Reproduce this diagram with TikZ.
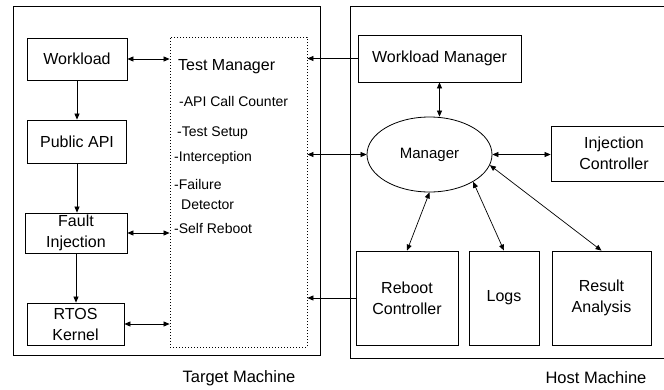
\documentclass[tikz,border=0pt]{standalone}
\usepackage{fontspec}
\setmainfont{Liberation Sans}
\usetikzlibrary{arrows.meta,shapes.geometric}

\tikzset{
  frame/.style={draw, line width=1pt},
  box/.style={draw, line width=0.8pt, align=center, inner sep=0pt, font=\fontsize{16}{21}\selectfont},
  item/.style={anchor=west, inner sep=0pt, font=\fontsize{14}{16}\selectfont},
  link/.style={line width=0.7pt}
}

\begin{document}
\begin{tikzpicture}[x=1pt,y=-1pt,>={Triangle[length=6pt,width=5pt]}]
\useasboundingbox (0,0) rectangle (664,389);
% the two machines
\draw[frame] (13,6) rectangle (320,355);
\draw[frame] (350,6) rectangle (700,358);
\node[font=\fontsize{16.5}{18}\selectfont] (tlabel) at (239,378) {Target Machine};
\node[font=\fontsize{16.5}{18}\selectfont] (hlabel) at (596,378) {Host Machine};

% target side
\node[box, minimum width=100, minimum height=42] (wl) at (77,59) {Workload};
\node[box, minimum width=99, minimum height=43] (api) at (77,141.5) {Public API};
\node[box, minimum width=102, minimum height=40] (fi) at (76,233) {Fault\\Injection};
\node[box, minimum width=97, minimum height=42] (rtos) at (75.5,324) {RTOS\\Kernel};
\node[draw, line width=0.8pt, dash pattern=on 1pt off 2pt, minimum width=137, minimum height=310] (tm) at (238.5,192) {};
\node[anchor=west, inner sep=0pt, font=\fontsize{16}{18}\selectfont] (tmtitle) at (178,67) {Test Manager};
\node[item] (calls) at (179,101) {-API Call Counter};
\node[item] (setup) at (177,133) {-Test Setup};
\node[item] (icept) at (174,158) {-Interception};
\node[item] (fail) at (174,184) {-Failure};
\node[item] (detect) at (181,205) {Detector};
\node[item] (reboot) at (174,228) {-Self Reboot};

% host side
\node[box, minimum width=163, minimum height=47] (wm) at (439.5,58.5) {Workload Manager};
\node[draw, ellipse, line width=0.8pt, inner sep=0pt, minimum width=125, minimum height=75, font=\fontsize{15}{18}\selectfont] (mgr) at (429.5,154.5) {Manager};
\node[box, minimum width=126, minimum height=55] (ic) at (614,153.5) {Injection\\Controller};
\node[box, minimum width=102, minimum height=94] (rc) at (407,298) {Reboot\\Controller};
\node[box, minimum width=70, minimum height=94] (logs) at (504,298) {Logs};
\node[box, minimum width=99, minimum height=94] (ra) at (601.5,298) {Result\\Analysis};

% connectors
\draw[link,->] (wl.south) -- (wl.south |- api.north);
\draw[link,->] (api.south) -- (api.south |- fi.north);
\draw[link,->] (fi.south) -- (fi.south |- rtos.north);
\draw[link,<->] (wl.east) -- (wl.east -| tm.west);
\draw[link,<->] (fi.east) -- (fi.east -| tm.west);
\draw[link,<->] (rtos.east) -- (rtos.east -| tm.west);
\draw[link,->] (wm.west) -- (wm.west -| tm.east);
\draw[link,<->] (mgr.west) -- (mgr.west -| tm.east);
\draw[link,->] (rc.west) -- (rc.west -| tm.east);
\draw[link,<->] (wm.south) -- (wm.south |- mgr.north);
\draw[link,<->] (mgr.east) -- (mgr.east -| ic.west);
\draw[link,<->] (mgr.south) -- (rc.north);
\draw[link,<->] (mgr.-32) -- (logs.north);
\draw[link,<->] (mgr.-10) -- (ra.north);
\end{tikzpicture}
\end{document}
